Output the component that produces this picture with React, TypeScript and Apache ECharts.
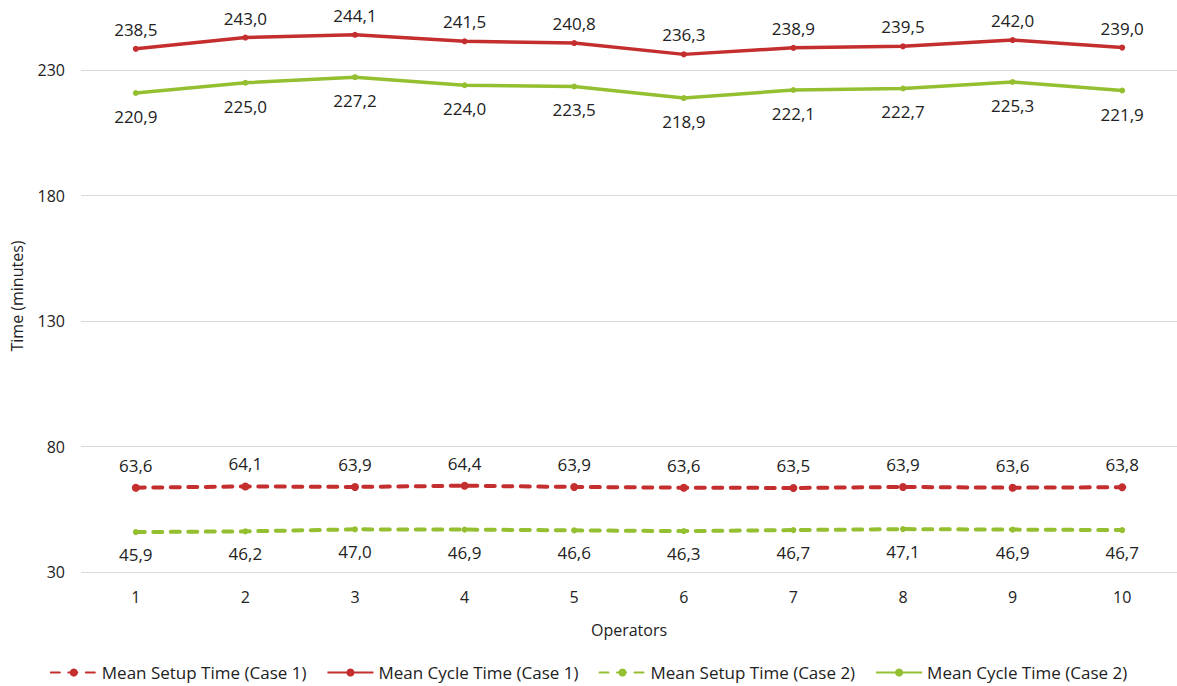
import React, { useEffect, useRef } from "react";
import * as echarts from "echarts";

const operators = ["1", "2", "3", "4", "5", "6", "7", "8", "9", "10"];
const setupCase1 = [63.6, 64.1, 63.9, 64.4, 63.9, 63.6, 63.5, 63.9, 63.6, 63.8];
const cycleCase1 = [238.5, 243.0, 244.1, 241.5, 240.8, 236.3, 238.9, 239.5, 242.0, 239.0];
const setupCase2 = [45.9, 46.2, 47.0, 46.9, 46.6, 46.3, 46.7, 47.1, 46.9, 46.7];
const cycleCase2 = [220.9, 225.0, 227.2, 224.0, 223.5, 218.9, 222.1, 222.7, 225.3, 221.9];

const RED = "#C42E2E";
const GREEN = "#94BF30";
const FONT = "'Open Sans', 'Noto Sans', sans-serif";

export default function App() {
  const ref = useRef<HTMLDivElement>(null);
  useEffect(() => {
    document.body.style.margin = "0";
    const chart = echarts.init(ref.current!, null, { renderer: "svg" });
    const fmt = (p: any) => Number(p.value).toFixed(1).replace(".", ",");
    const label = (pos: string, distance: number) => ({
      show: true,
      position: pos,
      distance,
      formatter: fmt,
      fontSize: 17,
      fontFamily: FONT,
      color: "#222",
    });
    chart.setOption({
      animation: false,
      textStyle: { fontFamily: FONT },
      grid: { left: 81, right: -5, top: 20, bottom: 114, containLabel: false },
      legend: {
        bottom: 0,
        left: "center",
        itemWidth: 46,
        itemHeight: 10,
        itemGap: 20,
        textStyle: { fontSize: 17, fontFamily: FONT, color: "#222" },
        data: [
          "Mean Setup Time (Case 1)",
          "Mean Cycle Time (Case 1)",
          "Mean Setup Time (Case 2)",
          "Mean Cycle Time (Case 2)",
        ],
      },
      xAxis: {
        type: "category",
        data: operators,
        boundaryGap: true,
        name: "Operators",
        nameLocation: "middle",
        nameGap: 50,
        nameTextStyle: { fontSize: 16, color: "#222", fontFamily: FONT },
        axisLine: { show: false },
        axisTick: { show: false },
        axisLabel: { fontSize: 16, color: "#222", margin: 17, fontFamily: FONT },
      },
      yAxis: {
        type: "value",
        min: 30,
        max: 250,
        interval: 50,
        name: "Time (minutes)",
        nameLocation: "middle",
        nameGap: 56,
        nameTextStyle: { fontSize: 16, color: "#222", fontFamily: FONT },
        axisLine: { show: false },
        axisTick: { show: false },
        axisLabel: { fontSize: 16, color: "#222", margin: 16, showMaxLabel: false, fontFamily: FONT },
        splitLine: { show: true, showMaxLine: false, lineStyle: { color: "#D9D9D9", width: 1 } },
      },
      series: [
        {
          name: "Mean Setup Time (Case 1)",
          type: "line",
          data: setupCase1,
          symbol: "circle",
          symbolSize: 8,
          color: RED,
          lineStyle: { color: RED, width: 4, type: [9, 8.5], cap: "round" },
          itemStyle: { color: RED },
          label: label("top", 10),
        },
        {
          name: "Mean Cycle Time (Case 1)",
          type: "line",
          data: cycleCase1,
          symbol: "circle",
          symbolSize: 6,
          color: RED,
          lineStyle: { color: RED, width: 3.5 },
          itemStyle: { color: RED },
          label: label("top", 8),
        },
        {
          name: "Mean Setup Time (Case 2)",
          type: "line",
          data: setupCase2,
          symbol: "circle",
          symbolSize: 6,
          color: GREEN,
          lineStyle: { color: GREEN, width: 4, type: [9, 8.5], cap: "round" },
          itemStyle: { color: GREEN },
          label: label("bottom", 11),
        },
        {
          name: "Mean Cycle Time (Case 2)",
          type: "line",
          data: cycleCase2,
          symbol: "circle",
          symbolSize: 6,
          color: GREEN,
          lineStyle: { color: GREEN, width: 3.5 },
          itemStyle: { color: GREEN },
          label: label("bottom", 12),
        },
      ],
    });
    return () => chart.dispose();
  }, []);
  return <div ref={ref} style={{ position: "absolute", left: 0, top: 0, width: 1177, height: 686, background: "#fff" }} />;
}
